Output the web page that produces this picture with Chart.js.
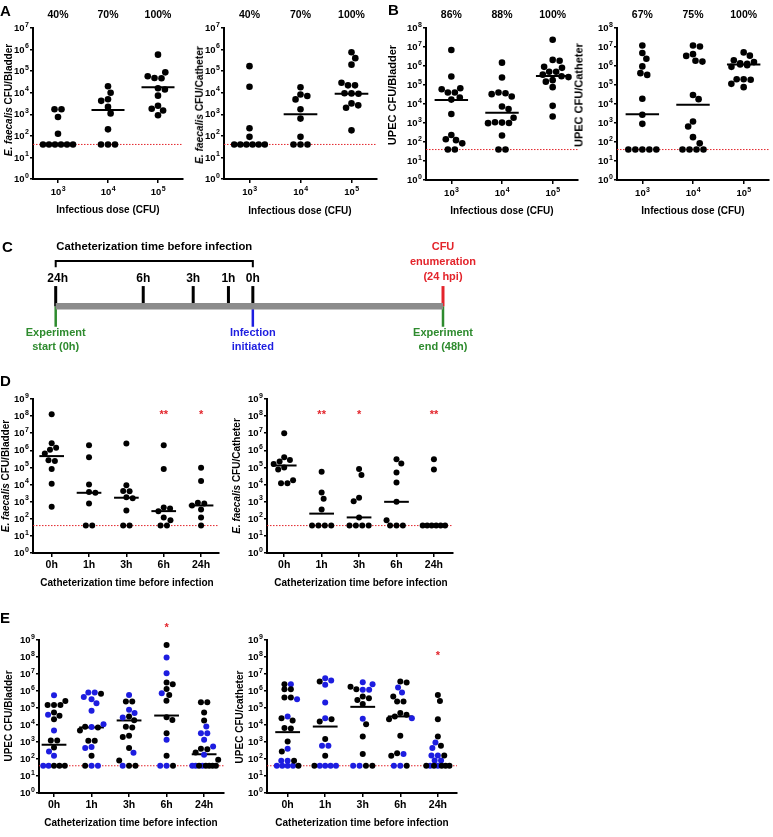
<!DOCTYPE html>
<html><head><meta charset="utf-8">
<script src="https://cdn.jsdelivr.net/npm/chart.js@4.4.1/dist/chart.umd.min.js"></script>
<style>
html,body{margin:0;padding:0;background:#fff;}
#wrap{position:relative;width:773px;height:837px;overflow:hidden;font-family:'Liberation Sans',Arial,Helvetica,sans-serif;color:#000;}
canvas{position:absolute;left:0;top:0;}
.t{position:absolute;white-space:nowrap;font-weight:bold;line-height:1;}
</style></head><body><div id="wrap"></div><script>
// ---------------- DATA ----------------
const LIMIT = 40; // limit of detection (CFU)
const doseCats = ['10³','10⁴','10⁵'];
const timeCats = ['0h','1h','3h','6h','24h'];

// Panel A: E. faecalis
const aBladderPct = ['40%','70%','100%'];
const aBladder = [
  [1700,1700,750,125,40,40,40,40,40,40],
  [20000,10000,5000,4200,2200,1100,200,40,40,40],
  [580000,88000,58000,48000,47000,16000,14000,7300,2500,1800,1500,900]
];
const aBladderMedian = [40,1600,18000];
const aCathPct = ['40%','70%','100%'];
const aCath = [
  [170000,19000,225,90,40,40,40,40,40,40],
  [18000,8300,7000,4900,1700,630,90,40,40,40],
  [750000,400000,200000,29000,22000,22000,9500,9300,9000,3200,2600,2000,180]
];
const aCathMedian = [40,1000,9000];

// Panel B: UPEC
const bBladderPct = ['86%','88%','100%'];
const bBladder = [
  [7000000,280000,68000,60000,40000,40000,22000,17000,3000,235,140,125,85,40,40],
  [1500000,250000,40000,37000,33000,25000,7400,5500,1900,1100,1050,1000,980,220,40,40],
  [24000000,2100000,1900000,900000,800000,500000,500000,350000,290000,260000,180000,150000,77000,8000,2200]
];
const bBladderMedian = [16000,3500,300000];
const bCathPct = ['67%','75%','100%'];
const bCath = [
  [12000000,4800000,2400000,950000,420000,340000,19000,2700,900,40,40,40,40,40],
  [12000000,10700000,4200000,3400000,1900000,1700000,30000,18000,1200,650,180,85,40,40,40,40],
  [5200000,3500000,2000000,1600000,1400000,1300000,1200000,1100000,900000,200000,200000,190000,115000,77000]
];
const bCathMedian = [2900,9000,1200000];

// Panel C: timeline (schematic position, % of timeline length)
const cTitle = 'Catheterization time before infection';
const cTimeLabels = ['24h','6h','3h','1h','0h'];
const cTimePos = [0,22.6,35.5,44.6,50.9];
const cStartPos = 0, cInfectionPos = 50.9, cEndPos = 100;

// Panel D: E. faecalis vs catheterization time
const dBladder = [
  [130000000,2600000,1400000,1100000,660000,260000,240000,80000,11000,500],
  [2000000,400000,10000,3700,3300,780,40,40],
  [2500000,9000,4200,4000,1800,1600,300,40,40],
  [2000000,80000,450,400,280,120,82,40,40],
  [95000,16000,850,780,600,350,120,40]
];
const dBladderMedian = [460000,3300,1700,280,600];
const dBladderStars = ['','','','**','*'];
const dCath = [
  [9800000,400000,270000,220000,160000,100000,75000,18000,12000,12000],
  [56000,3400,1500,350,40,40,40,40],
  [80000,36000,1700,1070,120,40,40,40,40],
  [300000,170000,50000,13000,980,82,40,40,40],
  [300000,76000,40,40,40,40,40,40]
];
const dCathMedian = [130000,200,120,980,40];
const dCathStars = ['','**','*','','**'];

// Panel E: UPEC vs catheterization time (two series: black, blue)
const eBladderBlack = [
  [260000,150000,150000,150000,55000,35000,22000,1240,1240,480,40,40,40],
  [680000,8000,7200,4800,1200,1200,155,40],
  [240000,240000,32000,19000,8000,7200,2300,1950,440,83,40,40],
  [500000000,3200000,2500000,1300000,590000,270000,29000,20000,3300,155,40],
  [220000,220000,55000,18500,400,380,245,90,40,40,40,40,40]
];
const eBladderBlue = [
  [560000,40000,4800,280,155,40,40],
  [810000,810000,440000,330000,190000,70000,11000,7500,500,440,40,40],
  [590000,78000,50000,28000,235,40],
  [92000000,11000000,740000,1350,40,40],
  [8200,3300,3300,1350,550,180,40,40,40]
];
const eBladderMedian = [690,7200,18500,36000,190];
const eBladderStars = ['','','','*',''];
const eCathBlack = [
  [2500000,1260000,1260000,410000,410000,25000,18500,6600,6300,1070,280,80,40],
  [3600000,22000,16000,1500,155,40],
  [1800000,1260000,480000,380000,300000,170000,11000,2100,200,40,40],
  [3600000,3200000,480000,240000,240000,50000,40000,32000,22000,2300,220,155,40],
  [590000,260000,22000,2100,600,160,40,40,40,40,40]
];
const eCathBlue = [
  [2500000,330000,32000,400,80,80,40,40,40,40],
  [5600000,4100000,2300000,210000,25000,600,600,40,40,40,40],
  [3300000,2500000,1200000,1200000,23000,40,40],
  [1600000,810000,25000,200,40,40],
  [940,440,160,160,83,83,40,40]
];
const eCathMedian = [3800,8100,117000,32000,40];
const eCathStars = ['','','','','*'];

// ---------------- RENDERING ----------------
const FONT = "'Liberation Sans', Arial, Helvetica, sans-serif";
const W = 773, H = 837;
const RED = '#e3242b', GREEN = '#2e8b2e', BLUE = '#1d1de0', GRAY = '#8c8c8c', BLACK = '#000';
const SUP = ['⁰','¹','²','³','⁴','⁵','⁶','⁷','⁸','⁹'];
const wrap = document.getElementById('wrap');

function addCanvas(){ const c=document.createElement('canvas'); c.width=W; c.height=H; c.style.width=W+'px'; c.style.height=H+'px'; wrap.appendChild(c); return c; }
function addText(html, x, y, size, opts){
  opts = opts || {};
  const d=document.createElement('div'); d.className='t'; d.innerHTML=html;
  d.style.left=x+'px'; d.style.top=y+'px'; d.style.fontSize=size+'px';
  d.style.transform = opts.rot ? 'translate(-50%,-50%) rotate(-90deg)' : (opts.left ? 'translate(0,-50%)' : 'translate(-50%,-50%)');
  if (opts.color) d.style.color=opts.color;
  wrap.appendChild(d);
}
// draws "10" with a raised exponent
function drawPow(ctx, exp, x, y, align){
  const bs=9.5, ss=7;
  ctx.font='bold '+bs+'px '+FONT; const wb=ctx.measureText('10').width;
  ctx.font='bold '+ss+'px '+FONT; const ws=ctx.measureText(String(exp)).width;
  const tot=wb+ws, x0 = align==='right' ? x-tot : x-tot/2;
  ctx.textAlign='left'; ctx.textBaseline='middle'; ctx.fillStyle=BLACK;
  ctx.font='bold '+bs+'px '+FONT; ctx.fillText('10', x0, y);
  ctx.font='bold '+ss+'px '+FONT; ctx.fillText(String(exp), x0+wb+0.3, y-3.8);
}

// beeswarm-style horizontal spreading (pixel offsets)
function swarm(vals, pxPerDec, diam, maxW){
  const n=vals.length, ys=vals.map(v=>-Math.log10(v)*pxPerDec), xs=new Array(n).fill(0);
  const idx=vals.map((v,i)=>i).sort((a,b)=>(ys[a]-ys[b])||(a-b));
  const placed=[], singles=[];
  let i=0;
  while(i<n){
    let j=i; while(j+1<n && Math.abs(ys[idx[j+1]]-ys[idx[i]])<0.8) j++;
    const cnt=j-i+1;
    if(cnt>1){ const step=Math.min(diam, maxW/cnt); for(let k=0;k<cnt;k++){ const id=idx[i+k]; xs[id]=(k-(cnt-1)/2)*step; placed.push(id);} }
    else singles.push(idx[i]);
    i=j+1;
  }
  let flip=1;
  for(const id of singles){
    const y=ys[id], iv=[];
    for(const q of placed){ const dy=Math.abs(ys[q]-y); if(dy<diam){ const w=Math.sqrt(diam*diam-dy*dy); iv.push([xs[q]-w, xs[q]+w]); } }
    const cands=[0]; iv.forEach(([a,b])=>cands.push(a,b));
    let best=null;
    for(const c of cands){
      if(iv.some(([a,b])=>c>a+1e-6 && c<b-1e-6)) continue;
      if(best===null || Math.abs(c)<Math.abs(best)-1e-6 || (Math.abs(Math.abs(c)-Math.abs(best))<1e-6 && Math.sign(c)===flip)) best=c;
    }
    if(best!==0) flip=-flip;
    xs[id]=best; placed.push(id);
  }
  return xs;
}

const YW=30, XH=22;
function axisCommon(size, tl, show){
  return {
    grid:{display:true, drawOnChartArea:false, drawTicks:true, tickLength:tl, color:BLACK, lineWidth:1.5},
    border:{display:true, color:BLACK, width:2},
    ticks:{display:show, autoSkip:false, maxRotation:0, color:BLACK, padding:2, font:{family:FONT, size:size, weight:'bold'}}
  };
}

function dotPlot(p){
  const cv=addCanvas();
  const nCat=p.cats.length;
  const pxPerCat=(p.area.r-p.area.l)/(p.xMax-p.xMin);
  const pxPerDec=(p.area.b-p.area.t)/p.yMaxExp;
  const diam=2*p.r+0.4;
  const pts=p.series.map(()=>[]);
  for(let c=0;c<nCat;c++){
    const items=[]; const mx=Math.max(...p.series.map(s=>s.values[c].length));
    for(let k=0;k<mx;k++) p.series.forEach((s,si)=>{ if(k<s.values[c].length) items.push({si, v:s.values[c][k]}); });
    const offs=swarm(items.map(d=>d.v), pxPerDec, diam, pxPerCat*0.72);
    items.forEach((d,k)=>pts[d.si].push({x:c+1+offs[k]/pxPerCat, y:d.v}));
  }
  const datasets=[];
  p.series.forEach((s,si)=>datasets.push({type:'scatter', data:pts[si], backgroundColor:s.color, borderColor:s.color, borderWidth:0, pointRadius:p.r, pointHoverRadius:p.r, order:0, clip:false}));
  p.medians.forEach((m,c)=>datasets.push({type:'line', data:[{x:c+1-0.33,y:m},{x:c+1+0.33,y:m}], borderColor:BLACK, borderWidth:2, pointRadius:0, order:1, clip:false}));
  datasets.push({type:'line', data:[{x:p.xMin,y:LIMIT},{x:p.xMax,y:LIMIT}], borderColor:RED, borderWidth:1, borderDash:[1.5,1.5], pointRadius:0, order:2, clip:false});

  const supCats = p.cats.every(c=>SUP.includes(c.slice(2)));
  const overlay={ id:'overlay', afterDraw(ch){
    const ctx=ch.ctx, xs=ch.scales.x, ys=ch.scales.y, ca=ch.chartArea;
    ctx.save();
    for(let k=0;k<=p.yMaxExp;k++) drawPow(ctx, k, ca.left-4.5, ys.getPixelForValue(Math.pow(10,k))+0.5, 'right');
    if(supCats) p.cats.forEach((c,i)=>drawPow(ctx, SUP.indexOf(c.slice(2)), xs.getPixelForValue(i+1), ca.bottom+13.5, 'center'));
    ctx.textAlign='center'; ctx.textBaseline='middle';
    if(p.pcts){ ctx.fillStyle=BLACK; ctx.font='bold 10.5px '+FONT; p.pcts.forEach((t,i)=>ctx.fillText(t, xs.getPixelForValue(i+1), p.pctY)); }
    if(p.stars){ ctx.fillStyle=RED; ctx.font='bold 11px '+FONT; const y=ys.getPixelForValue(Math.pow(10,p.starExp)); p.stars.forEach((t,i)=>{ if(t) ctx.fillText(t, xs.getPixelForValue(i+1), y+3); }); }
    ctx.restore();
  }};

  const xc=axisCommon(p.catSize, 4, !supCats), yc=axisCommon(10, 3, false);
  new Chart(cv,{
    type:'scatter',
    data:{datasets},
    options:{
      responsive:false, animation:false, devicePixelRatio:1, events:[],
      layout:{padding:{left:p.area.l-YW, top:p.area.t, right:W-p.area.r, bottom:H-p.area.b-XH}},
      plugins:{legend:{display:false}, tooltip:{enabled:false}},
      scales:{
        x:Object.assign({}, xc, {type:'linear', min:p.xMin, max:p.xMax, bounds:'data',
          afterFit:s=>{s.height=XH;},
          afterBuildTicks:s=>{ s.ticks=p.cats.map((_,i)=>({value:i+1})); },
          ticks:Object.assign({}, xc.ticks, {callback:v=>p.cats[Math.round(v)-1]||''})}),
        y:Object.assign({}, yc, {type:'logarithmic', min:1, max:Math.pow(10,p.yMaxExp), bounds:'data',
          afterFit:s=>{s.width=YW;},
          afterBuildTicks:s=>{ const t=[]; for(let k=0;k<=p.yMaxExp;k++) t.push({value:Math.pow(10,k)}); s.ticks=t; },
          ticks:Object.assign({}, yc.ticks, {callback:v=>'10'+SUP[Math.round(Math.log10(v))]})})
      }
    },
    plugins:[overlay]
  });
}

// Panel A
dotPlot({area:{l:33,t:28,r:183,b:179}, xMin:0.5, xMax:3.5, yMaxExp:7, r:3.3, cats:doseCats, catSize:10.5,
  series:[{values:aBladder, color:BLACK}], medians:aBladderMedian, pcts:aBladderPct, pctY:15});
dotPlot({area:{l:224,t:28,r:377,b:179}, xMin:0.5, xMax:3.5, yMaxExp:7, r:3.3, cats:doseCats, catSize:10.5,
  series:[{values:aCath, color:BLACK}], medians:aCathMedian, pcts:aCathPct, pctY:15});
// Panel B
dotPlot({area:{l:426,t:28,r:578,b:180}, xMin:0.5, xMax:3.5, yMaxExp:8, r:3.3, cats:doseCats, catSize:10.5,
  series:[{values:bBladder, color:BLACK}], medians:bBladderMedian, pcts:bBladderPct, pctY:15});
dotPlot({area:{l:617,t:28,r:769,b:180}, xMin:0.5, xMax:3.5, yMaxExp:8, r:3.3, cats:doseCats, catSize:10.5,
  series:[{values:bCath, color:BLACK}], medians:bCathMedian, pcts:bCathPct, pctY:15});
// Panel D
dotPlot({area:{l:33,t:399,r:219,b:553}, xMin:0.5, xMax:5.48, yMaxExp:9, r:3, cats:timeCats, catSize:10.5,
  series:[{values:dBladder, color:BLACK}], medians:dBladderMedian, stars:dBladderStars, starExp:8.24});
dotPlot({area:{l:267,t:399,r:453,b:553}, xMin:0.54, xMax:5.51, yMaxExp:9, r:3, cats:timeCats, catSize:10.5,
  series:[{values:dCath, color:BLACK}], medians:dCathMedian, stars:dCathStars, starExp:8.24});
// Panel E
dotPlot({area:{l:39,t:640,r:224,b:793}, xMin:0.6, xMax:5.53, yMaxExp:9, r:3, cats:timeCats, catSize:10.5,
  series:[{values:eBladderBlack, color:BLACK},{values:eBladderBlue, color:BLUE}], medians:eBladderMedian, stars:eBladderStars, starExp:9.88});
dotPlot({area:{l:267,t:640,r:457,b:793}, xMin:0.45, xMax:5.51, yMaxExp:9, r:3, cats:timeCats, catSize:10.5,
  series:[{values:eCathBlack, color:BLACK},{values:eCathBlue, color:BLUE}], medians:eCathMedian, stars:eCathStars, starExp:8.24});

// Panel C timeline
(function(){
  const cv=addCanvas();
  const U=17, y0=306.3, L=55.7, R=443, yMin=-3, yMax=4;
  const seg=(x0,a,x1,b,color,w,order)=>({type:'line', data:[{x:x0,y:a},{x:x1,y:b}], borderColor:color, borderWidth:w, pointRadius:0, clip:false, order:order});
  const ds=[];
  ds.push(seg(cStartPos,0,cEndPos,0,GRAY,6.5,0));
  cTimePos.forEach(p=>ds.push(seg(p,0,p,1.19,BLACK,3,1)));
  ds.push(seg(cEndPos,0,cEndPos,1.19,RED,3,1));
  ds.push(seg(cStartPos,0,cStartPos,-1.2,GREEN,2.5,1));
  ds.push(seg(cInfectionPos,0,cInfectionPos,-1.2,BLUE,2.5,1));
  ds.push(seg(cEndPos,0,cEndPos,-1.2,GREEN,2.5,1));
  ds.push({type:'line', data:[{x:cTimePos[0],y:2.29},{x:cTimePos[0],y:2.66},{x:cTimePos[4],y:2.66},{x:cTimePos[4],y:2.29}], borderColor:BLACK, borderWidth:2, pointRadius:0, clip:false, order:1});
  const txt={id:'ctext', afterDraw(ch){
    const ctx=ch.ctx, X=v=>ch.scales.x.getPixelForValue(v), Y=v=>ch.scales.y.getPixelForValue(v);
    ctx.save(); ctx.textAlign='center'; ctx.textBaseline='middle';
    ctx.fillStyle=BLACK; ctx.font='bold 11.3px '+FONT;
    ctx.fillText(cTitle, (X(cTimePos[0])+X(cTimePos[4]))/2, Y(3.5));
    ctx.font='bold 12px '+FONT;
    cTimeLabels.forEach((t,i)=>ctx.fillText(t, X(cTimePos[i])+(i===0?2:0), Y(1.6)));
    ctx.font='bold 11px '+FONT;
    ctx.fillStyle=RED; ['CFU','enumeration','(24 hpi)'].forEach((t,i)=>ctx.fillText(t, X(cEndPos), Y([3.5,2.62,1.74][i])));
    ctx.fillStyle=GREEN; ['Experiment','start (0h)'].forEach((t,i)=>ctx.fillText(t, X(cStartPos), Y([-1.59,-2.38][i])));
    ['Experiment','end (48h)'].forEach((t,i)=>ctx.fillText(t, X(cEndPos), Y([-1.59,-2.38][i])));
    ctx.fillStyle=BLUE; ['Infection','initiated'].forEach((t,i)=>ctx.fillText(t, X(cInfectionPos), Y([-1.59,-2.38][i])));
    ctx.restore();
  }};
  new Chart(cv,{type:'line', data:{datasets:ds}, options:{
    responsive:false, animation:false, devicePixelRatio:1, events:[],
    layout:{padding:{left:L, right:W-R, top:y0-yMax*U, bottom:H-(y0-yMin*U)}},
    plugins:{legend:{display:false}, tooltip:{enabled:false}},
    scales:{x:{type:'linear', min:cStartPos, max:cEndPos, display:false, bounds:'data'},
            y:{type:'linear', min:yMin, max:yMax, display:false, bounds:'data'}}
  }, plugins:[txt]});
})();

// Axis titles & panel letters (HTML text)
const IT='<i>E. faecalis</i>';
addText(IT+' CFU/Bladder', 9, 100, 10, {rot:true});
addText(IT+' CFU/Catheter', 199.5, 105, 10.2, {rot:true});
addText('UPEC CFU/Bladder', 392, 95, 11, {rot:true});
addText('UPEC CFU/Catheter', 579, 95, 11, {rot:true});
addText(IT+' CFU/Bladder', 6, 476, 10, {rot:true});
addText(IT+' CFU/Catheter', 237, 476, 10, {rot:true});
addText('UPEC CFU/Bladder', 9, 716, 10, {rot:true});
addText('UPEC CFU/catheter', 240, 717, 10, {rot:true});
addText('Infectious dose (CFU)', 108, 210, 10);
addText('Infectious dose (CFU)', 300, 211, 10);
addText('Infectious dose (CFU)', 502, 211, 10);
addText('Infectious dose (CFU)', 693, 211, 10);
addText('Catheterization time before infection', 127, 583, 10);
addText('Catheterization time before infection', 361, 583, 10);
addText('Catheterization time before infection', 131, 823, 10);
addText('Catheterization time before infection', 362, 823, 10);
addText('A', 0, 10, 15, {left:true});
addText('B', 388, 9, 15, {left:true});
addText('C', 2, 246, 15, {left:true});
addText('D', 0, 380, 15, {left:true});
addText('E', 0, 617, 15, {left:true});
</script></body></html>
